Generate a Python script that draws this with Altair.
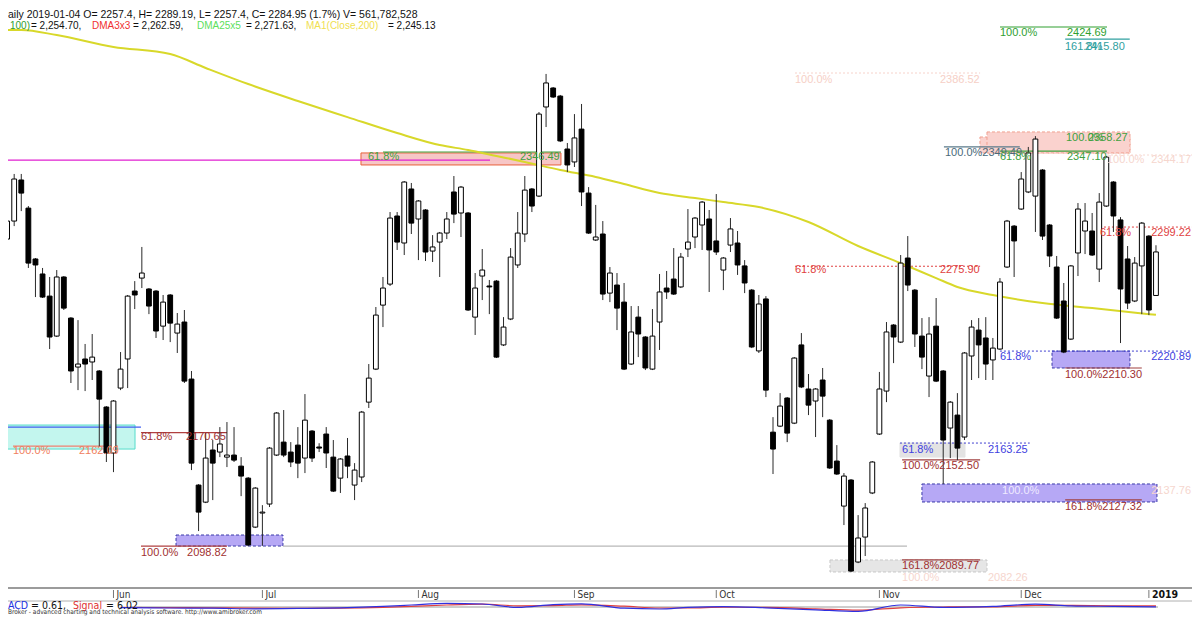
import altair as alt
import pandas as pd

# ---------------- data ----------------
opens = [2237.4, 2293.1, 2304.5, 2330.5, 2312.7, 2280.5, 2271.0, 2257.0, 2231.7, 2269.1,
         2243.1, 2212.1, 2217.2, 2215.3, 2209.6, 2186.8, 2157.7, 2198.8, 2217.2, 2260.2,
         2268.4, 2261.5, 2260.2, 2238.0, 2257.7, 2233.6, 2240.6, 2204.5, 2137.4, 2126.6,
         2159.6, 2158.3, 2155.1, 2156.4, 2149.4, 2141.8, 2110.8, 2119.7, 2125.4, 2156.4,
         2164.6, 2158.3, 2162.7, 2154.5, 2171.6, 2161.5, 2169.7, 2155.1, 2141.8, 2155.8,
         2137.4, 2142.5, 2189.9, 2210.8, 2251.3, 2264.6, 2307.7, 2290.6, 2324.8, 2305.8,
         2311.5, 2285.5, 2291.2, 2296.9, 2322.9, 2309.6, 2309.6, 2243.7, 2269.7, 2263.4,
         2266.5, 2226.1, 2242.5, 2276.7, 2296.3, 2324.8, 2320.3, 2376.7, 2388.7, 2383.6,
         2350.1, 2341.9, 2362.7, 2322.2, 2292.5, 2296.3, 2258.9, 2264.0, 2253.2, 2214.0,
         2243.7, 2231.1, 2210.8, 2240.6, 2262.1, 2267.8, 2262.8, 2286.8, 2294.4, 2302.0,
         2305.8, 2291.9, 2273.5, 2289.3, 2290.6, 2276.1, 2260.8, 2222.3, 2255.2, 2170.9,
         2174.7, 2192.5, 2176.6, 2226.1, 2198.2, 2190.6, 2203.9, 2178.5, 2152.6, 2124.1,
         2140.6, 2088.7, 2104.5, 2132.4, 2169.7, 2196.9, 2238.7, 2227.9, 2281.1, 2260.8,
         2231.7, 2206.4, 2238.0, 2209.6, 2173.5, 2181.7, 2167.8, 2219.1, 2235.5, 2230.5,
         2216.6, 2223.5, 2275.4, 2301.3, 2312.1, 2322.9, 2320.3, 2336.8, 2302.0, 2275.4,
         2253.9, 2229.8, 2284.3, 2298.2, 2298.2, 2274.1, 2314.0, 2329.2, 2305.2, 2280.5,
         2253.9, 2276.1, 2295.0, 2257.4]
highs = [2283.0, 2312.7, 2334.3, 2334.3, 2314.0, 2281.1, 2274.8, 2269.1, 2273.5, 2269.7,
         2243.7, 2241.8, 2226.7, 2233.0, 2210.2, 2187.4, 2191.2, 2221.6, 2257.7, 2266.5,
         2288.1, 2262.1, 2260.8, 2257.7, 2258.3, 2246.3, 2248.2, 2209.6, 2138.0, 2170.3,
         2165.9, 2174.1, 2177.3, 2174.1, 2155.1, 2142.5, 2136.1, 2124.7, 2161.5, 2183.6,
         2184.9, 2164.6, 2174.1, 2195.0, 2172.2, 2163.9, 2174.1, 2165.9, 2154.5, 2167.2,
         2151.3, 2184.3, 2214.0, 2250.1, 2269.1, 2310.2, 2310.2, 2329.8, 2328.6, 2317.8,
         2312.1, 2295.6, 2297.6, 2310.2, 2333.0, 2326.7, 2310.2, 2271.6, 2286.8, 2267.2,
         2267.2, 2243.7, 2287.4, 2310.2, 2333.0, 2325.4, 2373.5, 2397.6, 2389.3, 2384.3,
         2353.9, 2372.2, 2378.6, 2326.0, 2314.7, 2304.5, 2275.4, 2271.6, 2265.3, 2250.7,
         2250.7, 2231.7, 2248.8, 2271.0, 2272.9, 2287.4, 2284.3, 2312.1, 2307.0, 2317.2,
         2311.5, 2321.6, 2281.7, 2306.4, 2298.2, 2279.8, 2261.5, 2257.7, 2257.0, 2180.4,
         2195.6, 2193.1, 2218.4, 2233.6, 2207.7, 2198.8, 2211.5, 2179.2, 2162.7, 2145.0,
         2141.2, 2118.4, 2126.0, 2152.6, 2209.0, 2240.6, 2239.3, 2283.0, 2295.0, 2261.5,
         2243.1, 2243.7, 2255.8, 2210.2, 2190.6, 2195.6, 2221.6, 2241.8, 2243.1, 2243.7,
         2230.5, 2268.4, 2305.2, 2302.0, 2335.5, 2351.4, 2358.27, 2337.4, 2302.6, 2282.4,
         2265.3, 2276.7, 2315.9, 2315.9, 2309.6, 2322.2, 2345.7, 2329.8, 2307.0, 2288.7,
         2281.7, 2303.9, 2295.6, 2289.19]
lows = [2235.5, 2280.5, 2301.3, 2310.8, 2274.8, 2256.4, 2255.8, 2223.5, 2231.1, 2248.2,
        2202.0, 2197.5, 2196.9, 2203.9, 2161.5, 2152.0, 2145.6, 2197.5, 2198.8, 2248.8,
        2262.1, 2245.6, 2230.5, 2229.2, 2227.9, 2221.0, 2202.0, 2146.9, 2108.3, 2126.0,
        2127.9, 2155.1, 2148.8, 2152.0, 2130.4, 2098.82, 2110.2, 2099.0, 2123.5, 2155.8,
        2155.1, 2148.8, 2141.8, 2145.0, 2152.0, 2158.3, 2148.2, 2133.0, 2132.4, 2141.8,
        2127.9, 2139.3, 2186.2, 2210.2, 2237.4, 2263.4, 2286.2, 2283.0, 2296.3, 2279.8,
        2279.2, 2278.6, 2269.1, 2293.1, 2303.2, 2294.4, 2247.6, 2232.4, 2254.5, 2245.6,
        2217.8, 2225.4, 2241.8, 2274.8, 2291.2, 2310.2, 2319.7, 2364.0, 2382.4, 2354.5,
        2335.5, 2338.7, 2314.0, 2296.3, 2291.9, 2254.5, 2253.2, 2235.5, 2210.2, 2213.4,
        2218.4, 2210.2, 2210.2, 2222.9, 2255.2, 2257.7, 2262.1, 2281.7, 2287.4, 2286.2,
        2259.6, 2283.0, 2260.8, 2284.9, 2270.4, 2258.9, 2224.1, 2221.0, 2193.1, 2144.4,
        2174.1, 2164.6, 2176.0, 2198.8, 2181.7, 2167.8, 2180.4, 2147.6, 2143.8, 2112.1,
        2082.26, 2088.0, 2092.5, 2131.7, 2169.1, 2189.9, 2214.6, 2227.3, 2260.2, 2224.8,
        2210.8, 2193.1, 2202.6, 2138.0, 2154.5, 2153.2, 2165.9, 2203.9, 2205.1, 2203.9,
        2203.9, 2222.9, 2274.8, 2269.1, 2311.5, 2322.2, 2297.6, 2292.5, 2275.4, 2242.5,
        2220.9, 2229.2, 2269.7, 2283.6, 2282.4, 2265.9, 2313.4, 2297.6, 2227.3, 2248.8,
        2253.2, 2245.6, 2245.0, 2257.4]
closes = [2281.1, 2304.5, 2331.1, 2322.2, 2277.9, 2276.7, 2256.4, 2231.1, 2269.1, 2249.4,
          2209.6, 2214.0, 2214.0, 2218.4, 2191.8, 2157.7, 2190.6, 2210.8, 2257.0, 2257.7,
          2271.6, 2250.7, 2234.9, 2253.2, 2239.9, 2239.3, 2203.2, 2151.3, 2120.3, 2154.5,
          2151.3, 2163.4, 2156.4, 2153.2, 2143.1, 2099.5, 2135.5, 2120.3, 2160.8, 2183.0,
          2156.4, 2152.0, 2151.3, 2178.5, 2154.5, 2160.8, 2157.7, 2133.6, 2153.9, 2149.4,
          2146.9, 2183.6, 2205.1, 2245.0, 2262.1, 2306.4, 2291.2, 2329.2, 2303.2, 2317.2,
          2284.9, 2288.1, 2296.9, 2305.8, 2308.9, 2326.0, 2248.2, 2262.1, 2273.5, 2262.8,
          2218.4, 2237.4, 2281.7, 2296.9, 2324.1, 2314.0, 2372.2, 2391.9, 2383.0, 2355.2,
          2340.0, 2357.1, 2322.9, 2296.9, 2294.4, 2258.3, 2271.6, 2249.4, 2210.8, 2234.3,
          2233.0, 2211.5, 2231.7, 2259.6, 2259.6, 2258.3, 2281.7, 2291.2, 2306.4, 2316.5,
          2286.2, 2284.9, 2281.1, 2299.5, 2276.7, 2265.3, 2224.8, 2252.0, 2197.5, 2160.2,
          2187.4, 2170.3, 2217.8, 2199.5, 2188.0, 2198.2, 2193.7, 2148.2, 2144.4, 2143.1,
          2083.0, 2103.9, 2122.9, 2152.0, 2198.2, 2234.3, 2231.1, 2277.9, 2264.0, 2233.0,
          2218.4, 2233.0, 2203.2, 2165.9, 2189.9, 2160.8, 2221.0, 2237.4, 2226.1, 2214.0,
          2224.1, 2265.9, 2304.5, 2291.9, 2331.1, 2347.6, 2356.4, 2295.0, 2282.4, 2243.1,
          2221.6, 2276.1, 2312.1, 2304.5, 2283.0, 2316.5, 2345.0, 2307.7, 2261.5, 2252.6,
          2277.9, 2303.2, 2248.2, 2284.95]

# 200-day moving average, read at some bars
ma_idx = [0, 3, 8, 16, 24, 29, 35, 42, 49, 56, 62, 66, 70, 74, 79, 84, 88, 93, 98, 102,
          107, 114, 121, 127, 132, 135, 140, 147, 154, 163]
ma_val = [2425.4, 2425.4, 2422.2, 2414.7, 2410.2, 2401.4, 2391.2, 2380.5, 2370.3, 2360.2,
          2352.6, 2349.5, 2345.7, 2341.9, 2336.8, 2332.4, 2327.9, 2322.2, 2319.1, 2316.5,
          2313.4, 2303.9, 2288.7, 2277.9, 2268.4, 2262.8, 2257.7, 2252.6, 2249.4, 2245.13]

# MACD pane
macd_idx = [17, 24, 30, 36, 42, 48, 54, 58, 63, 68, 73, 78, 82, 88, 93, 97, 102, 108, 115,
            121, 127, 133, 140, 146, 151, 157, 163]
macd_val = [-3, -5, -6, -9, -7, -4, 3, 10, 18, 15, -2, 12, 16, -6, -10, -2, 2, -4, -14,
            -22, 10, -2, 3, 14, 6, 3, 0.61]
signal_val = [-2, -3, -4, -6, -7, -6, -2, 3, 10, 14, 6, 7, 11, 4, -5, -5, -1, -2, -9,
              -16, -4, 0, 1, 8, 8, 6, 6.02]

# month ticks (bar index of first bar of month)
month_names = ["Jun", "Jul", "Aug", "Sep", "Oct", "Nov", "Dec", "2019"]
month_idx = [16, 37, 59, 81, 101, 124, 144, 162]

# annotation boxes: bar range, price range
box_x1 = [0, 24.82, 50.90, 138.18, 139.17, 148.34, 126.90, 130.00, 117.03]
box_x2 = [19.04, 39.90, 79.10, 159.33, 159.33, 159.33, 136.07, 163.14, 139.17]
box_top = [2175.4, 2105.8, 2347.6, 2357.7, 2360.9, 2222.2, 2164.0, 2138.1, 2090.0]
box_bot = [2160.2, 2098.82, 2340.0, 2347.6, 2347.6, 2211.5, 2155.1, 2126.7, 2082.4]
box_fill = ["#c3f6ee", "#b6a8f5", "#f7c6c6", "#fad2ce", "#fad2ce", "#b6a8f5", "#e3e3e3", "#b6a8f5", "#e6e6e6"]
box_stroke = ["#55dccb", "#3a3aa8", "#e8603a", "#f0a090", "#f0a090", "#3a3aa8", "#e3e3e3", "#3a3aa8", "#c8c8c8"]
box_dash = [False, True, False, True, True, True, False, True, True]

# horizontal level lines
lvl_x1 = [0, 0, 1.83, 19.88, 19.88, 39.90, 54.0, 112.1, 112.1, 141.0, 150.2, 133.1, 141.0,
          156.1, 155.1, 141.0, 150.2, 126.9, 127.2, 150.2, 127.2]
lvl_x2 = [69.09, 19.88, 16.64, 32.01, 32.01, 127.89, 79.1, 138.2, 138.2, 156.1, 159.3, 143.8,
          156.1, 169.2, 169.2, 169.2, 161.0, 145.2, 138.2, 161.0, 138.2]
lvl_price = [2343.1, 2174.1, 2162.09, 2170.65, 2098.82, 2098.82, 2348.2, 2398.2, 2275.90,
             2427.3, 2419.7, 2351.4, 2348.8, 2346.3, 2300.7, 2222.2, 2211.5, 2164.0, 2153.3,
             2128.0, 2090.0]
lvl_color = ["#e020d0", "#4060f0", "#f08070", "#b04040", "#b04040", "#b8b8b8", "#40a040",
             "#f6d2ca", "#e04040", "#30a030", "#30a0a0", "#5a7a8a", "#40a040", "#f6d8d0",
             "#e04040", "#4040d0", "#a04040", "#4040d0", "#a04040", "#a04040", "#a04040"]
lvl_dash = [False, False, False, False, False, False, False, True, True, False, False, False,
            False, True, True, True, False, True, False, False, False]

# level labels (left-aligned at bar index)
lab_text = ["100.0%", "2162.09", "61.8%", "2170.65", "100.0%", "2098.82", "61.8%", "2346.49",
            "100.0%", "2386.52", "61.8%", "2275.90", "100.0%", "2424.69", "161.8%", "2415.80",
            "100.0%", "2358.27", "100.0%2349.49", "61.8%", "2347.10", "100.0%",
            "61.8%", "61.8%", "100.0%2210.30", "61.8%", "2163.25",
            "100.0%2152.50", "100.0%", "161.8%2127.32", "161.8%2089.77",
            "100.0%", "2082.26"]
lab_idx = [1.83, 11.14, 19.88, 26.23, 19.88, 26.37, 51.89, 73.32, 112.10, 132.54, 112.10,
           132.54, 141.00, 150.45, 150.17, 152.99, 150.31, 153.41, 133.25, 141.00, 150.45,
           156.09, 155.10, 141.00, 150.17, 127.19, 139.31, 127.19,
           141.29, 150.17, 127.19, 127.19, 139.31]
lab_price = [2159.0, 2159.0, 2167.8, 2167.8, 2094.4, 2094.4, 2345.0, 2345.0, 2393.8, 2393.8,
             2273.5, 2273.5, 2423.5, 2423.5, 2414.7, 2414.7, 2357.1, 2357.1, 2347.6, 2345.0,
             2345.0, 2343.1, 2296.9, 2218.4, 2207.1, 2159.6, 2159.6,
             2149.5, 2133.6, 2123.5, 2086.2, 2078.6, 2078.6]
lab_color = ["#f08060", "#f08060", "#a03030", "#a03030", "#a03030", "#a03030", "#40a040",
             "#40a040", "#f6cfc6", "#f6cfc6", "#e04040", "#e04040", "#30a030", "#30a030",
             "#30a0a0", "#30a0a0", "#40a040", "#40a040", "#4a6a7a", "#40a040", "#40a040",
             "#f6d6ce", "#e04040", "#4040e0", "#a03030", "#4040e0", "#4040e0",
             "#a03030", "#efeaff", "#a03030", "#a03030", "#f6d6ce", "#f6d6ce"]

# level labels at the right edge of the chart (right-aligned)
rlab_text = ["2344.17", "2299.22", "2220.89", "2137.76"]
rlab_price = [2343.1, 2296.9, 2218.4, 2133.6]
rlab_color = ["#f6d6ce", "#e04040", "#4040e0", "#f6d6ce"]

header1 = "aily 2019-01-04 O= 2257.4, H= 2289.19, L= 2257.4, C= 2284.95 (1.7%) V= 561,782,528"
header2_text = ["100)", "= 2,254.70,", "DMA3x3", "= 2,262.59,", "DMA25x5", "= 2,271.63,",
                "MA1(Close,200)", "= 2,245.13"]
header2_color = ["#2e9e2e", "#111111", "#f03030", "#111111", "#5ce05c", "#111111",
                 "#f0e050", "#111111"]
header2_x = [2, 23, 84, 125, 189, 238, 298, 380]

macd_text = ["ACD", "= 0.61,", "Signal", "= 6.02"]
macd_text_color = ["#2030e0", "#111111", "#e03030", "#111111"]
macd_text_x = [0, 23, 65, 98]

footer = "Broker - advanced charting and technical analysis software. http://www.amibroker.com"

# ---------------- chart ----------------
W, H = 1184, 608
X_MAX = 168.08
xs = alt.Scale(domain=[1.128, X_MAX], nice=False, zero=False, padding=0)
ys = alt.Scale(domain=[2054.54, 2439.34], nice=False, zero=False, padding=0)
FONT = "Liberation Sans"
NARROW = "Liberation Sans Narrow, DejaVu Sans Condensed, Liberation Sans"

def X(f):
    return alt.X(f, type="quantitative", scale=xs, axis=None)

def Y(f):
    return alt.Y(f, type="quantitative", scale=ys, axis=None)

one = pd.DataFrame({"d": [0]})
layers = []

# boxes
bdf = pd.DataFrame({"x1": box_x1, "x2": box_x2, "top": box_top, "bot": box_bot,
                    "fill": box_fill, "stroke": box_stroke, "dash": box_dash})
for dashed in (False, True):
    sub = bdf[bdf.dash == dashed]
    kw = {"strokeDash": [3, 2]} if dashed else {}
    layers.append(alt.Chart(sub).mark_rect(strokeWidth=1, clip=True, **kw).encode(
        x=X("x1"), x2="x2", y=Y("top"), y2="bot",
        fill=alt.Fill("fill:N", scale=None), stroke=alt.Stroke("stroke:N", scale=None)))

# level lines
ldf = pd.DataFrame({"x1": lvl_x1, "x2": lvl_x2, "p": lvl_price, "c": lvl_color, "dash": lvl_dash})
for dashed in (False, True):
    sub = ldf[ldf.dash == dashed]
    kw = {"strokeDash": [2, 2]} if dashed else {}
    layers.append(alt.Chart(sub).mark_rule(strokeWidth=1.2 if not dashed else 1, clip=True, **kw).encode(
        x=X("x1"), x2="x2", y=Y("p"), color=alt.Color("c:N", scale=None)))

# MA 200
madf = pd.DataFrame({"i": ma_idx, "v": ma_val})
layers.append(alt.Chart(madf).mark_line(color="#d8d82a", strokeWidth=2, interpolate="monotone",
                                        clip=True).encode(x=X("i"), y=Y("v")))

# candles
df = pd.DataFrame({"i": list(range(len(opens))), "open": opens, "high": highs,
                   "low": lows, "close": closes})
layers.append(alt.Chart(df).mark_rule(color="#2a2a2a", strokeWidth=1, clip=True).encode(
    x=X("i"), y=Y("low"), y2="high"))
layers.append(alt.Chart(df).mark_bar(size=4.8, stroke="#000000", strokeWidth=1, clip=True).encode(
    x=X("i"), y=Y("open"), y2="close",
    fill=alt.condition("datum.close >= datum.open", alt.value("#ffffff"), alt.value("#000000"))))

# level labels
tdf = pd.DataFrame({"i": lab_idx, "p": lab_price, "t": lab_text, "c": lab_color})
layers.append(alt.Chart(tdf).mark_text(align="left", baseline="middle", font=FONT,
                                       fontSize=11, clip=True).encode(
    x=X("i"), y=Y("p"), text="t:N", color=alt.Color("c:N", scale=None)))
rdf = pd.DataFrame({"p": rlab_price, "t": rlab_text, "c": rlab_color})
layers.append(alt.Chart(rdf).mark_text(align="right", baseline="middle", font=FONT,
                                       fontSize=11).encode(
    x=alt.value(W - 1), y=Y("p"), text="t:N", color=alt.Color("c:N", scale=None)))

# header
layers.append(alt.Chart(one).mark_text(text=header1, align="left", baseline="middle", font=FONT,
                                      fontSize=10.5, color="#111111").encode(
    x=alt.value(0), y=alt.value(6.5)))
for t, c, px in zip(header2_text, header2_color, header2_x):
    layers.append(alt.Chart(one).mark_text(text=t, align="left", baseline="middle", font=FONT,
                                          fontSize=10, color=c).encode(
        x=alt.value(px), y=alt.value(17.5)))

# x axis lines
layers.append(alt.Chart(one).mark_rule(color="#7a7a7a", strokeWidth=1.5).encode(
    x=alt.value(0), x2=alt.value(W), y=alt.value(580)))
layers.append(alt.Chart(one).mark_rule(color="#b0b0b0", strokeWidth=1).encode(
    x=alt.value(0), x2=alt.value(W), y=alt.value(593)))

# month ticks & labels
mdf = pd.DataFrame({"i": month_idx, "m": month_names,
                    "w": ["normal"] * 7 + ["bold"]})
layers.append(alt.Chart(mdf).mark_rule(color="#777777", strokeWidth=1).encode(
    x=X("i"), y=alt.value(582), y2=alt.value(590)))
layers.append(alt.Chart(mdf[mdf.w == "normal"]).mark_text(align="left", baseline="middle", dx=3,
                                                          font=NARROW, fontSize=10,
                                                          color="#333333").encode(
    x=X("i"), y=alt.value(587), text="m:N"))
layers.append(alt.Chart(mdf[mdf.w == "bold"]).mark_text(align="left", baseline="middle", dx=3,
                                                        font=NARROW, fontSize=10.5,
                                                        fontWeight="bold",
                                                        color="#111111").encode(
    x=X("i"), y=alt.value(587), text="m:N"))

# MACD pane
macd_scale = alt.Scale(domain=[-40, 40], range=[607, 591], nice=False, zero=False)
mcd = pd.DataFrame({"i": macd_idx, "macd": macd_val, "sig": signal_val})
layers.append(alt.Chart(one).mark_rule(color="#9a9a9a", strokeWidth=1).encode(
    x=alt.value(122), x2=alt.value(1150), y=alt.value(599)))
layers.append(alt.Chart(mcd).mark_line(color="#e04040", strokeWidth=1.2, interpolate="monotone",
                                       clip=True).encode(
    x=X("i"), y=alt.Y("sig:Q", scale=macd_scale, axis=None)))
layers.append(alt.Chart(mcd).mark_line(color="#3030e0", strokeWidth=1.2, interpolate="monotone",
                                       clip=True).encode(
    x=X("i"), y=alt.Y("macd:Q", scale=macd_scale, axis=None)))
for t, c, px in zip(macd_text, macd_text_color, macd_text_x):
    layers.append(alt.Chart(one).mark_text(text=t, align="left", baseline="middle", font=NARROW,
                                          fontSize=10.5, color=c).encode(
        x=alt.value(px), y=alt.value(598)))

# footer
layers.append(alt.Chart(one).mark_text(text=footer, align="left", baseline="middle", font=NARROW,
                                      fontSize=6.5, color="#333333").encode(
    x=alt.value(0), y=alt.value(604)))

chart = alt.layer(*layers).properties(
    width=W, height=H, padding=0, autosize=alt.AutoSizeParams(type="none"),
    background="#ffffff"
).resolve_scale(y="independent").configure_view(stroke=None)

chart.save("out.html", embed_options={"renderer": "svg", "actions": False})
